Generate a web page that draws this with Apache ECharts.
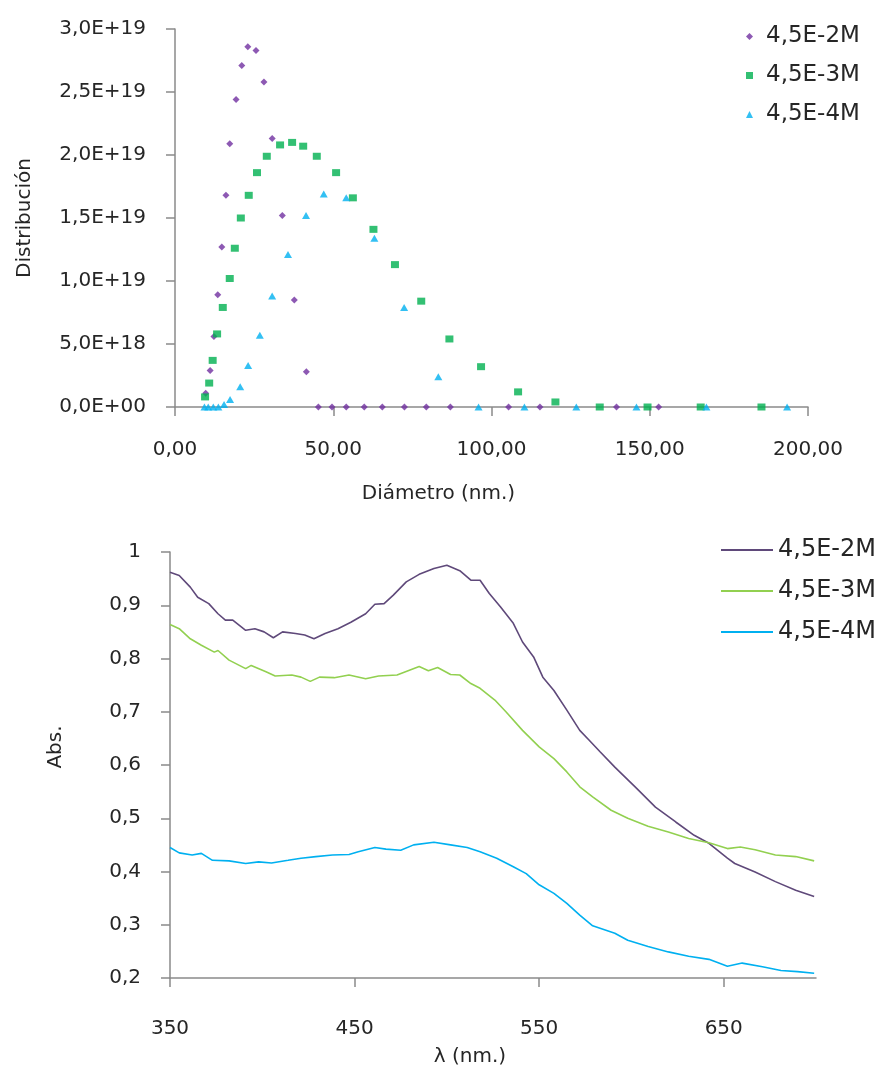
<!DOCTYPE html>
<html>
<head>
<meta charset="utf-8">
<script src="https://cdn.jsdelivr.net/npm/echarts@6/dist/echarts.min.js"></script>
<style>
  html, body { margin: 0; background: #fff; }
  #chart { width: 886px; height: 1070px; }
</style>
</head>
<body>
<div id="chart"></div>
<script>
// series names (same in both charts)
const seriesNames = ['4,5E-2M', '4,5E-3M', '4,5E-4M'];

// top chart: diameter (nm.) vs distribution (x 1E18)
const diam2 = [9.7, 11.1, 12.3, 13.5, 14.8, 16.1, 17.3, 19.3, 21.1, 23.0, 25.6, 28.1, 30.7, 33.9, 37.7, 41.5, 45.3, 49.6, 54.1, 59.8, 65.5, 72.5, 79.4, 87.0, 105.4, 115.3, 139.5, 152.8];
const dist2 = [1.1, 2.9, 5.6, 8.9, 12.7, 16.8, 20.9, 24.4, 27.1, 28.6, 28.3, 25.8, 21.3, 15.2, 8.5, 2.8, 0, 0, 0, 0, 0, 0, 0, 0, 0, 0, 0, 0];
const diam3 = [9.5, 10.8, 11.9, 13.3, 15.1, 17.3, 18.9, 20.8, 23.3, 25.9, 29.0, 33.2, 37.0, 40.5, 44.8, 50.9, 56.2, 62.7, 69.5, 77.8, 86.7, 96.7, 108.4, 120.2, 134.2, 149.3, 166.1, 185.3];
const dist3 = [0.8, 1.9, 3.7, 5.8, 7.9, 10.2, 12.6, 15.0, 16.8, 18.6, 19.9, 20.8, 21.0, 20.7, 19.9, 18.6, 16.6, 14.1, 11.3, 8.4, 5.4, 3.2, 1.2, 0.4, 0, 0, 0, 0];
const diam4 = [9.3, 10.5, 12.1, 13.7, 15.5, 17.4, 20.6, 23.1, 26.8, 30.7, 35.7, 41.4, 47.0, 54.1, 63.0, 72.4, 83.2, 95.9, 110.4, 126.8, 145.8, 167.9, 193.4];
const dist4 = [0, 0, 0, 0, 0.2, 0.6, 1.6, 3.3, 5.7, 8.8, 12.1, 15.2, 16.9, 16.6, 13.4, 7.9, 2.4, 0, 0, 0, 0, 0, 0];
const E18 = 1e18;

// bottom chart: wavelength (nm.) vs absorbance
const wl2 = [350, 355, 361, 365, 371, 376, 380, 384, 391, 396, 401, 406, 411, 418, 423, 428, 434, 441, 448, 456, 461, 466, 471, 478, 485, 493, 500, 507, 513, 518, 523, 529, 536, 541, 547, 552, 558, 565, 572, 577, 583, 591, 602, 613, 624, 634, 642, 652, 656, 667, 678, 689, 699];
const abs2 = [0.962, 0.956, 0.934, 0.915, 0.903, 0.884, 0.872, 0.872, 0.853, 0.856, 0.850, 0.839, 0.850, 0.847, 0.844, 0.837, 0.847, 0.856, 0.868, 0.884, 0.902, 0.903, 0.919, 0.944, 0.958, 0.969, 0.975, 0.965, 0.947, 0.947, 0.922, 0.897, 0.866, 0.831, 0.803, 0.765, 0.740, 0.703, 0.665, 0.647, 0.625, 0.596, 0.559, 0.521, 0.493, 0.468, 0.453, 0.425, 0.415, 0.399, 0.381, 0.365, 0.353];
const wl3 = [350, 355, 361, 367, 374, 376, 382, 391, 394, 402, 407, 416, 421, 426, 431, 439, 447, 456, 463, 473, 485, 490, 495, 502, 507, 513, 518, 526, 532, 541, 550, 558, 565, 572, 579, 589, 598, 609, 620, 631, 642, 652, 659, 667, 678, 689, 699];
const abs3 = [0.864, 0.856, 0.837, 0.825, 0.812, 0.815, 0.797, 0.781, 0.787, 0.775, 0.767, 0.769, 0.765, 0.757, 0.765, 0.764, 0.769, 0.762, 0.767, 0.769, 0.785, 0.777, 0.783, 0.770, 0.769, 0.753, 0.744, 0.722, 0.700, 0.665, 0.634, 0.612, 0.587, 0.559, 0.540, 0.515, 0.500, 0.485, 0.474, 0.462, 0.454, 0.443, 0.446, 0.441, 0.431, 0.428, 0.420];
const wl4 = [350, 355, 362, 367, 373, 382, 391, 398, 405, 414, 421, 429, 438, 447, 452, 461, 467, 475, 482, 493, 502, 511, 518, 527, 536, 543, 550, 558, 565, 572, 579, 591, 598, 609, 620, 631, 642, 652, 660, 671, 681, 690, 699];
const abs4 = [0.445, 0.435, 0.431, 0.434, 0.421, 0.420, 0.415, 0.418, 0.416, 0.421, 0.425, 0.428, 0.431, 0.432, 0.437, 0.445, 0.442, 0.440, 0.450, 0.455, 0.450, 0.445, 0.437, 0.425, 0.409, 0.396, 0.375, 0.359, 0.340, 0.318, 0.298, 0.284, 0.271, 0.259, 0.249, 0.241, 0.235, 0.222, 0.228, 0.221, 0.214, 0.212, 0.209];

const lambdaTicks = [350, 450, 550, 650];

const FONT = 'DejaVu Sans';
const TEXT = '#262626';
const AXIS = '#8a8a8a';

const pairs = (xs, ys, k = 1) => xs.map((x, i) => [x, ys[i] * k]);

// 3,0E+19 style labels
function sciLabel(v) {
  if (v === 0) return '0,0E+00';
  const e = Math.floor(Math.log10(v) + 1e-9);
  const m = v / Math.pow(10, e);
  return m.toFixed(1).replace('.', ',') + 'E+' + String(e).padStart(2, '0');
}

const axisCommon = {
  axisLine: { lineStyle: { color: AXIS, width: 1.5 } },
  axisTick: { length: 9, lineStyle: { color: AXIS, width: 1.5 } },
  splitLine: { show: false },
  axisLabel: { color: TEXT, fontFamily: FONT, fontSize: 20 },
  nameTextStyle: { color: TEXT, fontFamily: FONT, fontSize: 20 }
};

const chart = echarts.init(document.getElementById('chart'));
chart.setOption({
  animation: false,
  backgroundColor: '#fff',
  grid: [
    { left: 175, top: 29, width: 633, height: 378, containLabel: false, outerBoundsMode: 'none' },
    { left: 170, top: 552, width: 646, height: 426, containLabel: false, outerBoundsMode: 'none' }
  ],
  xAxis: [
    {
      ...axisCommon, gridIndex: 0, type: 'value', min: 0, max: 200, interval: 50,
      axisLabel: { ...axisCommon.axisLabel, margin: 33, formatter: v => v.toFixed(2).replace('.', ',') },
      name: 'Diámetro (nm.)', nameLocation: 'middle', nameGap: 77,
      nameTextStyle: { ...axisCommon.nameTextStyle, padding: [0, 106, 0, 0] }
    },
    {
      ...axisCommon, gridIndex: 1, type: 'value', min: 350, max: 700, interval: 100,
      axisTick: { ...axisCommon.axisTick, customValues: lambdaTicks },
      axisLabel: { ...axisCommon.axisLabel, margin: 41, customValues: lambdaTicks },
      name: 'λ (nm.)', nameLocation: 'middle', nameGap: 69,
      nameTextStyle: { ...axisCommon.nameTextStyle, padding: [0, 46, 0, 0] }
    }
  ],
  yAxis: [
    {
      ...axisCommon, gridIndex: 0, type: 'value', min: 0, max: 3e19, interval: 5e18,
      axisLabel: { ...axisCommon.axisLabel, margin: 29, formatter: sciLabel },
      name: 'Distribución', nameLocation: 'middle', nameGap: 140
    },
    {
      ...axisCommon, gridIndex: 1, type: 'value', min: 0.2, max: 1, interval: 0.1,
      axisLabel: {
        ...axisCommon.axisLabel, margin: 29,
        formatter: v => Math.abs(v - 1) < 1e-9 ? '1' : v.toFixed(1).replace('.', ',')
      },
      name: 'Abs.', nameLocation: 'middle', nameGap: 104,
      nameTextStyle: { ...axisCommon.nameTextStyle, padding: [0, 0, 0, 36] }
    }
  ],
  legend: [
    {
      orient: 'vertical', left: 741, top: 20, itemGap: 16,
      itemWidth: 7, itemHeight: 7,
      textStyle: { color: TEXT, fontFamily: FONT, fontSize: 23, padding: [0, 0, 0, 8] },
      data: [
        { name: seriesNames[0], icon: 'diamond' },
        { name: seriesNames[1], icon: 'rect' },
        { name: seriesNames[2], icon: 'triangle' }
      ]
    },
    {
      orient: 'vertical', left: 716, top: 533, itemGap: 17,
      itemWidth: 52, itemHeight: 2, icon: 'rect',
      textStyle: { color: TEXT, fontFamily: FONT, fontSize: 24 },
      formatter: n => n.trim(),
      data: seriesNames.map(n => n + ' ')
    }
  ],
  series: [
    {
      name: seriesNames[0], type: 'scatter', xAxisIndex: 0, yAxisIndex: 0,
      symbol: 'diamond', symbolSize: 7, itemStyle: { color: '#7030A0' },
      data: pairs(diam2, dist2, E18)
    },
    {
      name: seriesNames[1], type: 'scatter', xAxisIndex: 0, yAxisIndex: 0,
      symbol: 'rect', symbolSize: [8, 7], itemStyle: { color: '#00B050' },
      data: pairs(diam3, dist3, E18)
    },
    {
      name: seriesNames[2], type: 'scatter', xAxisIndex: 0, yAxisIndex: 0,
      symbol: 'triangle', symbolSize: [8, 7], itemStyle: { color: '#00B0F0' },
      data: pairs(diam4, dist4, E18)
    },
    {
      name: seriesNames[0] + ' ', type: 'line', xAxisIndex: 1, yAxisIndex: 1,
      symbol: 'none', lineStyle: { color: '#5F497A', width: 1.6 }, itemStyle: { color: '#5F497A' },
      data: pairs(wl2, abs2)
    },
    {
      name: seriesNames[1] + ' ', type: 'line', xAxisIndex: 1, yAxisIndex: 1,
      symbol: 'none', lineStyle: { color: '#92D050', width: 1.6 }, itemStyle: { color: '#92D050' },
      data: pairs(wl3, abs3)
    },
    {
      name: seriesNames[2] + ' ', type: 'line', xAxisIndex: 1, yAxisIndex: 1,
      symbol: 'none', lineStyle: { color: '#00B0F0', width: 1.6 }, itemStyle: { color: '#00B0F0' },
      data: pairs(wl4, abs4)
    }
  ]
});
</script>
</body>
</html>
